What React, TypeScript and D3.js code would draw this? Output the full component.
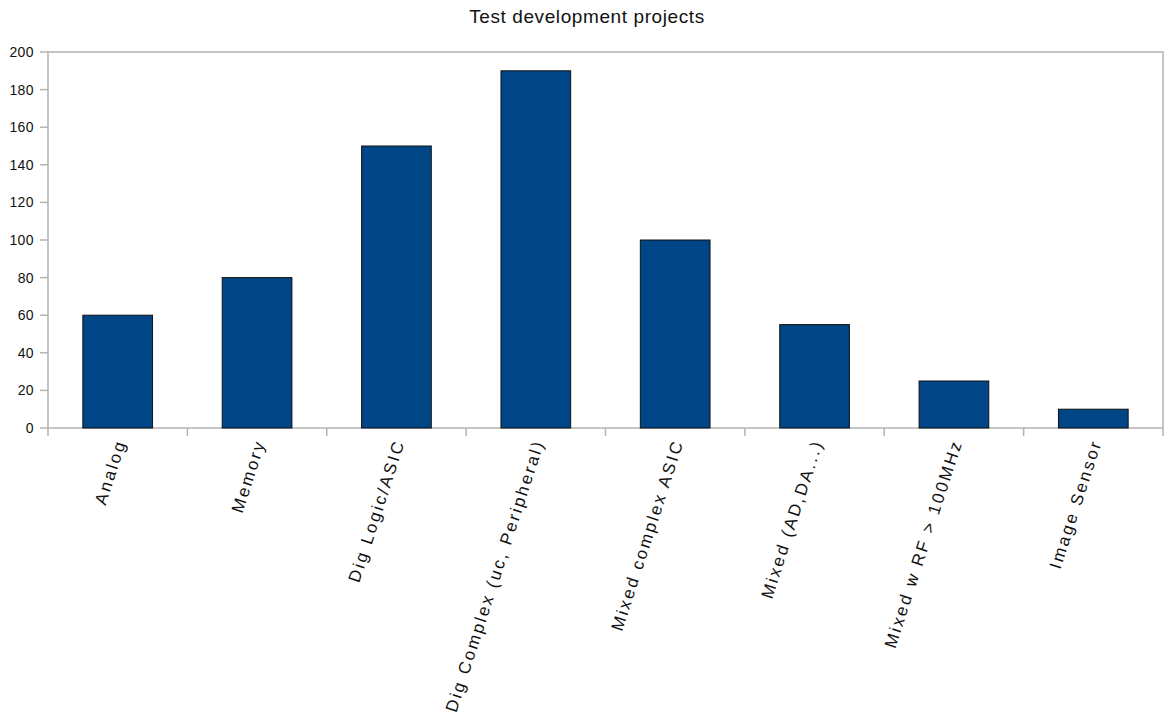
import React from "react";
import * as d3 from "d3";

const categories = [
  "Analog",
  "Memory",
  "Dig Logic/ASIC",
  "Dig Complex (uc, Peripheral)",
  "Mixed complex ASIC",
  "Mixed (AD,DA...)",
  "Mixed w RF > 100MHz",
  "Image Sensor",
];
const projects = [60, 80, 150, 190, 100, 55, 25, 10];
const yTicks = [0, 20, 40, 60, 80, 100, 120, 140, 160, 180, 200];
const title = "Test development projects";

const width = 1165;
const height = 720;
const margin = { top: 52, right: 2, bottom: 292, left: 48 };
const font = "'Liberation Sans', Arial, sans-serif";
const axisColor = "#b3b3b3";

export default function App() {
  const innerW = width - margin.left - margin.right;
  const innerH = height - margin.top - margin.bottom;

  const x = d3
    .scaleBand<string>()
    .domain(categories)
    .range([0, innerW])
    .paddingInner(0.5)
    .paddingOuter(0.25);
  const y = d3.scaleLinear().domain([0, 200]).range([innerH, 0]);

  // category boundaries for the x ticks
  const step = x.step();
  const boundaries = d3.range(categories.length + 1).map((i) => i * step);

  return (
    <div style={{ position: "absolute", left: 0, top: 0 }}>
      <svg width={width} height={height} style={{ display: "block", background: "#fff" }}>
        <text
          x={587}
          y={23}
          textAnchor="middle"
          fontFamily={font}
          fontSize={19}
          letterSpacing={0.6}
          fill="#111"
        >
          {title}
        </text>
        <g transform={`translate(${margin.left},${margin.top})`}>
          <rect
            x={0}
            y={0}
            width={innerW}
            height={innerH}
            fill="none"
            stroke={axisColor}
            strokeWidth={1.5}
          />
          {yTicks.map((t) => (
            <g key={t} transform={`translate(0,${y(t)})`}>
              <line x1={-8} x2={0} stroke={axisColor} strokeWidth={1.5} />
              <text
                x={-14}
                dy="0.35em"
                textAnchor="end"
                fontFamily={font}
                fontSize={14}
                letterSpacing={0.4}
                fill="#111"
              >
                {t}
              </text>
            </g>
          ))}
          {boundaries.map((b, i) => (
            <line
              key={i}
              x1={b}
              x2={b}
              y1={innerH}
              y2={innerH + 8}
              stroke={axisColor}
              strokeWidth={1.5}
            />
          ))}
          {categories.map((c, i) => (
            <rect
              key={c}
              x={x(c)}
              y={y(projects[i])}
              width={x.bandwidth()}
              height={innerH - y(projects[i])}
              fill="#004586"
              stroke="#111"
              strokeWidth={1}
            />
          ))}
          {categories.map((c) => (
            <text
              key={c}
              transform={`translate(${(x(c) ?? 0) + x.bandwidth() / 2 + 3},${innerH + 12}) rotate(-72)`}
              dy="0.35em"
              textAnchor="end"
              fontFamily={font}
              fontSize={17}
              letterSpacing={2.4}
              fill="#111"
            >
              {c}
            </text>
          ))}
        </g>
      </svg>
    </div>
  );
}
